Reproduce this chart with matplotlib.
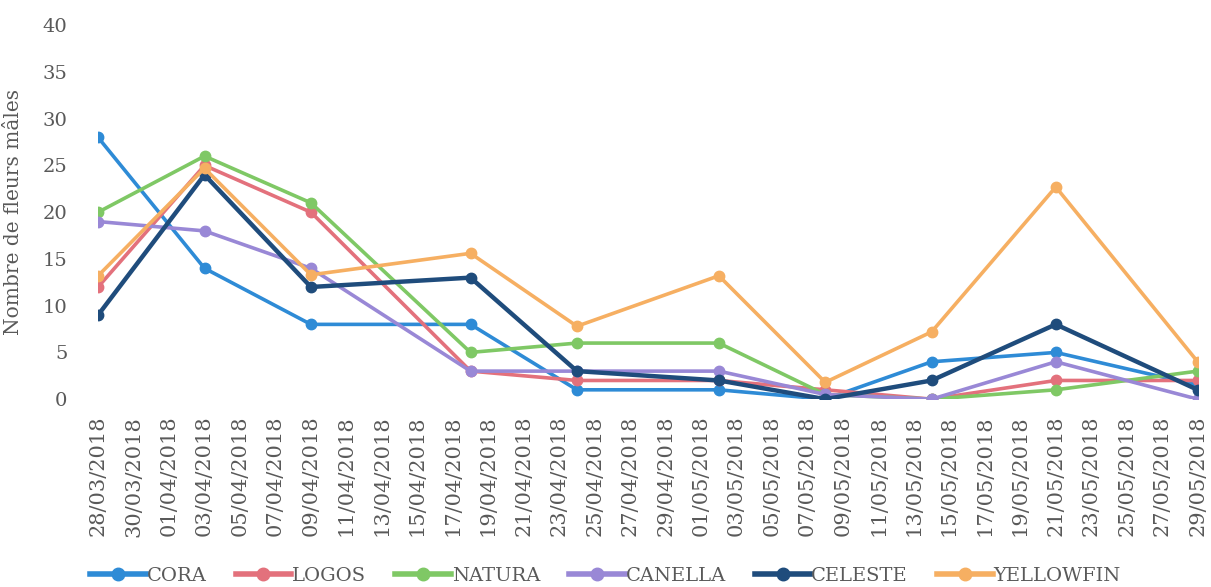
import numpy as np
import matplotlib
matplotlib.use("Agg")
import matplotlib.pyplot as plt
import matplotlib.dates as mdates
from datetime import datetime, timedelta

# Dates des relevés
dates = ["28/03/2018", "03/04/2018", "09/04/2018", "18/04/2018", "24/04/2018",
         "02/05/2018", "08/05/2018", "14/05/2018", "21/05/2018", "29/05/2018"]

# Nombre de fleurs mâles par variété
cora = [28, 14, 8, 8, 1, 1, 0, 4, 5, 1.5]
logos = [12, 25, 20, 3, 2, 2, 1, 0, 2, 2]
natura = [20, 26, 21, 5, 6, 6, 0.5, 0, 1, 3]
canella = [19, 18, 14, 3, 3, 3, 0.5, 0, 4, 0]
celeste = [9, 24, 12, 13, 3, 2, 0, 2, 8, 1]
yellowfin = [13.2, 24.7, 13.3, 15.6, 7.8, 13.2, 1.8, 7.2, 22.7, 4]

series = ["CORA", "LOGOS", "NATURA", "CANELLA", "CELESTE", "YELLOWFIN"]
valeurs = [cora, logos, natura, canella, celeste, yellowfin]
couleurs = ["#2E8BD6", "#E3717C", "#7FC865", "#9988D6", "#1F4C7C", "#F6AF62"]

# Graduations de l'axe x: tous les 2 jours
debut = datetime(2018, 3, 28)
fin = datetime(2018, 5, 29)
ticks = [debut + timedelta(days=2 * i) for i in range(32)]

x = [datetime.strptime(d, "%d/%m/%Y") for d in dates]

plt.rcParams['font.family'] = ['DejaVu Serif']
gris = "#595959"

fig = plt.figure(figsize=(12.11, 5.87), dpi=100)
ax = fig.add_axes([0.081, 0.320, 0.908, 0.637])

for nom, val, c in zip(series, valeurs, couleurs):
    lw = 3.2 if nom == "CELESTE" else 2.6
    ax.plot(x, val, color=c, linewidth=lw, marker="o", markersize=7.5,
            label=nom, zorder=3)

ax.set_xlim(debut, fin)
ax.set_ylim(0, 40)
ax.set_yticks(np.arange(0, 41, 5))
ax.set_xticks(ticks)
ax.xaxis.set_major_formatter(mdates.DateFormatter("%d/%m/%Y"))
plt.setp(ax.get_xticklabels(), rotation=90)
ax.tick_params(axis="both", length=0, colors=gris, labelsize=14)
ax.tick_params(axis="x", pad=12, labelsize=15)
ax.tick_params(axis="y", pad=22)

for s in ax.spines.values():
    s.set_visible(False)

ax.set_ylabel("Nombre de fleurs mâles", color=gris, fontsize=14.5)
ax.yaxis.set_label_coords(-0.068, 0.5)

leg = fig.legend(loc="lower center", bbox_to_anchor=(0.5, -0.026), ncol=6,
                 frameon=False, fontsize=14, handlelength=2.85, handletextpad=0.05,
                 columnspacing=1.5, labelcolor=gris)
for h in leg.legend_handles:
    h.set_linewidth(4)
    h.set_markersize(9)

plt.savefig("out.png", dpi=100)
plt.close()
